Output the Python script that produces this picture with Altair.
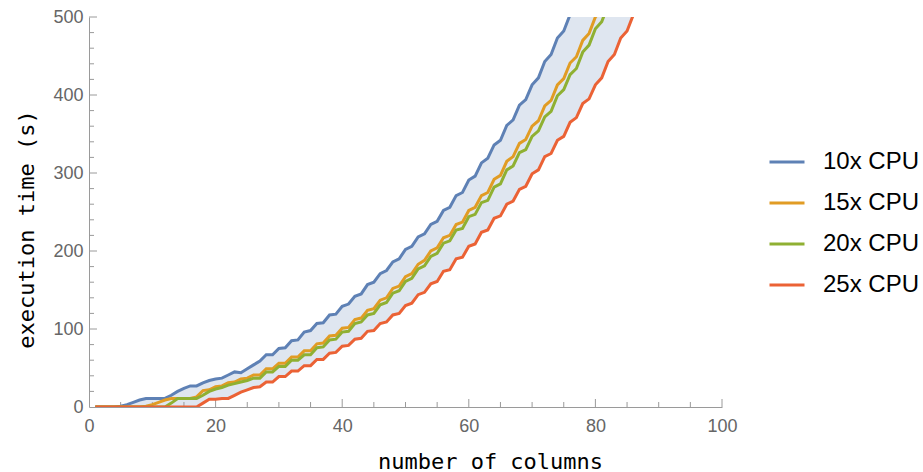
import altair as alt
import pandas as pd

# ---------------- data ----------------
x_vals = list(range(1, 88))

cpu10 = [0, 0, 0, 0, 1, 3, 6, 9, 11, 11,
         11, 11, 15, 20, 24, 27, 27, 31, 34, 36,
         37, 41, 45, 44, 49, 54, 59, 67, 67, 75,
         76, 85, 86, 96, 98, 107, 108, 118, 119, 129,
         132, 142, 145, 157, 160, 171, 175, 186, 190, 202,
         206, 218, 222, 234, 238, 252, 256, 271, 275, 291,
         296, 313, 319, 336, 342, 361, 368, 387, 394, 413,
         422, 443, 452, 473, 482, 503, 512, 533, 543, 564,
         574, 596, 606, 628, 638, 661, 671]

cpu15 = [0, 0, 0, 0, 0, 0, 0, 0, 1, 3,
         6, 9, 11, 11, 11, 11, 13, 21, 22, 26,
         27, 31, 32, 36, 37, 41, 41, 49, 49, 56,
         56, 64, 64, 72, 72, 81, 82, 91, 92, 101,
         102, 112, 114, 124, 126, 137, 140, 152, 155, 167,
         171, 183, 188, 200, 204, 217, 220, 234, 237, 252,
         256, 271, 275, 292, 297, 315, 321, 338, 343, 360,
         367, 386, 393, 413, 421, 441, 449, 470, 479, 500,
         509, 530, 540, 560, 570, 592, 602]

cpu20 = [0, 0, 0, 0, 0, 0, 0, 0, 0, 0,
         0, 0, 5, 11, 11, 11, 11, 15, 20, 23,
         25, 28, 30, 32, 34, 37, 37, 45, 45, 52,
         52, 60, 60, 67, 67, 76, 77, 86, 87, 96,
         97, 107, 109, 118, 120, 131, 134, 146, 149, 161,
         165, 177, 181, 193, 197, 210, 213, 227, 229, 244,
         247, 262, 265, 282, 286, 304, 309, 326, 330, 347,
         354, 372, 379, 399, 407, 426, 434, 455, 464, 485,
         494, 515, 525, 545, 555, 577, 587]

cpu25 = [0, 0, 0, 0, 0, 0, 0, 0, 0, 0,
         0, 0, 0, 0, 0, 0, 0, 5, 10, 10,
         11, 11, 15, 19, 22, 25, 26, 32, 32, 39,
         39, 46, 46, 53, 53, 61, 61, 69, 70, 78,
         79, 87, 88, 97, 98, 107, 109, 118, 120, 130,
         133, 144, 147, 158, 161, 174, 176, 190, 192, 206,
         209, 224, 227, 242, 245, 260, 264, 279, 283, 299,
         304, 321, 325, 342, 347, 365, 371, 389, 395, 413,
         422, 443, 452, 473, 482, 503, 512]

series_names = ["10x CPU", "15x CPU", "20x CPU", "25x CPU"]
series_colors = ["#5E81B5", "#E19C24", "#8FB032", "#EB6235"]

x_major = [0, 20, 40, 60, 80, 100]
x_minor = [5, 10, 15, 25, 30, 35, 45, 50, 55, 65, 70, 75, 85, 90, 95]
y_major = [0, 100, 200, 300, 400, 500]
y_minor = [20, 40, 60, 80, 120, 140, 160, 180, 220, 240, 260, 280,
           320, 340, 360, 380, 420, 440, 460, 480]

# ---------------- tables ----------------
rows = []
for name, vals in zip(series_names, [cpu10, cpu15, cpu20, cpu25]):
    for xv, vv in zip(x_vals, vals):
        rows.append({"x": xv, "v": vv, "series": name})
df_lines = pd.DataFrame(rows)
df_band = pd.DataFrame({"x": x_vals, "lo": cpu25, "hi": cpu10})

PW, PH = 633, 390
AX = "#9a9a9a"
LBL = "#666666"

xs = alt.Scale(domain=[0, 100], nice=False, zero=False)
ys = alt.Scale(domain=[0, 500], nice=False)

x_axis = alt.Axis(values=x_major, ticks=False, grid=False, domainColor=AX,
                  labelFontSize=18, labelColor=LBL, labelFont="Liberation Sans",
                  labelPadding=10, labelFlush=False,
                  title="number of columns", titleFont="DejaVu Sans Mono",
                  titleFontSize=22, titleFontWeight="normal", titleColor="black",
                  titleX=401, titleY=61, titleBaseline="alphabetic", titleAlign="center")
y_axis = alt.Axis(values=y_major, ticks=False, grid=False, domainColor=AX,
                  labelFontSize=18, labelColor=LBL, labelFont="Liberation Sans",
                  labelPadding=6, labelFlush=False,
                  title="execution time (s)", titleFont="DejaVu Sans Mono",
                  titleFontSize=22, titleFontWeight="normal", titleColor="black",
                  titleX=-56, titleY=212, titleAngle=270,
                  titleBaseline="alphabetic", titleAlign="center")

band = alt.Chart(df_band).mark_area(clip=True, color="#5E81B5", opacity=0.2).encode(
    x=alt.X("x:Q", scale=xs, axis=x_axis),
    y=alt.Y("lo:Q", scale=ys, axis=y_axis),
    y2="hi:Q",
)

lines = alt.Chart(df_lines).mark_line(clip=True, strokeWidth=3).encode(
    x=alt.X("x:Q", scale=xs, axis=x_axis),
    y=alt.Y("v:Q", scale=ys, axis=y_axis),
    color=alt.Color("series:N", sort=series_names,
                    scale=alt.Scale(domain=series_names, range=series_colors),
                    legend=alt.Legend(title=None, orient="none", legendX=679, legendY=126,
                                      symbolType="stroke", symbolSize=1225,
                                      symbolStrokeWidth=3, labelFontSize=24,
                                      labelFont="Liberation Sans", labelColor="black",
                                      labelOffset=17, rowPadding=10, padding=0)),
)

def xticks(vals, length):
    return alt.Chart(pd.DataFrame({"t": vals})).mark_rule(color=AX, strokeWidth=1).encode(
        x=alt.X("t:Q", scale=xs, axis=x_axis),
        y=alt.value(PH), y2=alt.value(PH - length))

def yticks(vals, length):
    return alt.Chart(pd.DataFrame({"t": vals})).mark_rule(color=AX, strokeWidth=1).encode(
        y=alt.Y("t:Q", scale=ys, axis=y_axis),
        x=alt.value(0), x2=alt.value(length))

chart = alt.layer(
    band,
    xticks(x_major[1:], 8), xticks(x_minor, 5),
    yticks(y_major[1:], 8), yticks(y_minor, 5),
    lines,
).properties(
    width=PW, height=PH,
    autosize=alt.AutoSizeParams(type="none"),
    padding={"left": 89, "top": 17, "right": 201, "bottom": 65},
).configure_view(stroke=None)

chart.save("out.html", embed_options={"renderer": "svg", "actions": False})
